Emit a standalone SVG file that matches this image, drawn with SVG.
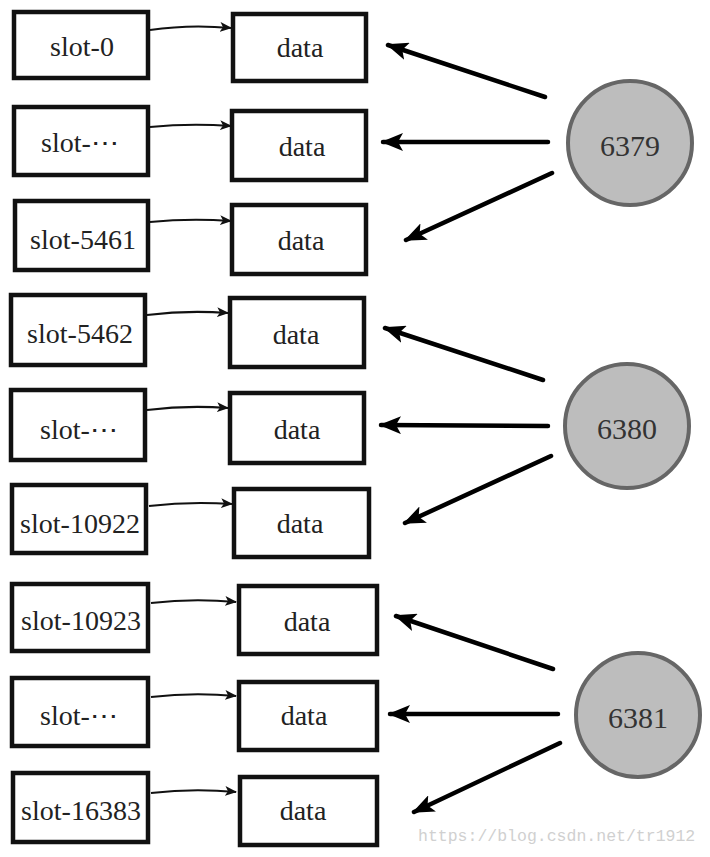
<svg xmlns="http://www.w3.org/2000/svg" width="710" height="857" viewBox="0 0 710 857">
<defs>
<style>
.box{fill:#fff;stroke:#111;stroke-width:4.5;stroke-linejoin:miter}
.lbl{font-family:"Liberation Serif",serif;font-size:28px;fill:#222;text-anchor:middle;dominant-baseline:central}
.num{font-family:"Liberation Serif",serif;font-size:30px;fill:#333;text-anchor:middle;dominant-baseline:central}
.srv{fill:#bdbdbd;stroke:#666;stroke-width:4}
.sm{fill:none;stroke:#111;stroke-width:2;marker-end:url(#sa)}
.big{fill:none;stroke:#000;stroke-width:4.5;stroke-linecap:round;marker-end:url(#ba)}
</style>
<marker id="sa" markerUnits="userSpaceOnUse" viewBox="0 0 12 10" markerWidth="12" markerHeight="10" refX="11" refY="5" orient="auto">
<path d="M0,0 L12,5 L0,10 L3,5 Z" fill="#111"/>
</marker>
<marker id="ba" markerUnits="userSpaceOnUse" viewBox="0 0 22 18" markerWidth="22" markerHeight="18" refX="20" refY="9" orient="auto">
<path d="M22,9 L0,0 L5,9 L0,18 Z" fill="#000"/>
</marker>
</defs>
<rect width="710" height="857" fill="#fff"/>

<g id="slot-0"><rect class="box" x="14" y="12" width="134" height="66"/><text class="lbl" x="82" y="46">slot-0</text></g>
<g id="data-0"><rect class="box" x="233" y="14" width="133" height="67"/><text class="lbl" x="300" y="47">data</text></g>
<g id="slot-a"><rect class="box" x="14" y="107" width="134" height="68"/><text class="lbl" x="80" y="142">slot-⋯</text></g>
<g id="data-a"><rect class="box" x="232" y="111" width="134" height="69"/><text class="lbl" x="302" y="146">data</text></g>
<g id="slot-5461"><rect class="box" x="15" y="201" width="133" height="69"/><text class="lbl" x="83" y="239">slot-5461</text></g>
<g id="data-5461"><rect class="box" x="232" y="205" width="134" height="69"/><text class="lbl" x="301" y="240">data</text></g>

<g id="slot-5462"><rect class="box" x="11" y="295" width="134" height="70"/><text class="lbl" x="80" y="333">slot-5462</text></g>
<g id="data-5462"><rect class="box" x="230" y="298" width="134" height="69"/><text class="lbl" x="296" y="334">data</text></g>
<g id="slot-b"><rect class="box" x="11" y="390" width="134" height="70"/><text class="lbl" x="79" y="429">slot-⋯</text></g>
<g id="data-b"><rect class="box" x="230" y="393" width="134" height="70"/><text class="lbl" x="297" y="429">data</text></g>
<g id="slot-10922"><rect class="box" x="12" y="485" width="134" height="68"/><text class="lbl" x="80" y="523">slot-10922</text></g>
<g id="data-10922"><rect class="box" x="234" y="489" width="135" height="68"/><text class="lbl" x="300" y="523">data</text></g>

<g id="slot-10923"><rect class="box" x="12" y="584" width="136" height="67"/><text class="lbl" x="81" y="620">slot-10923</text></g>
<g id="data-10923"><rect class="box" x="239" y="586" width="138" height="68"/><text class="lbl" x="307" y="621">data</text></g>
<g id="slot-c"><rect class="box" x="12" y="678" width="136" height="68"/><text class="lbl" x="79" y="715">slot-⋯</text></g>
<g id="data-c"><rect class="box" x="239" y="682" width="138" height="68"/><text class="lbl" x="304" y="715">data</text></g>
<g id="slot-16383"><rect class="box" x="13" y="773" width="135" height="69"/><text class="lbl" x="81" y="810">slot-16383</text></g>
<g id="data-16383"><rect class="box" x="240" y="777" width="137" height="68"/><text class="lbl" x="303" y="810">data</text></g>

<g id="node-6379"><circle class="srv" cx="630" cy="143" r="62"/><text class="num" x="630" y="145">6379</text></g>
<g id="node-6380"><circle class="srv" cx="627" cy="426" r="62"/><text class="num" x="627" y="428">6380</text></g>
<g id="node-6381"><circle class="srv" cx="638" cy="715" r="62"/><text class="num" x="638" y="717">6381</text></g>

<g id="connectors">
<path class="sm" d="M150,30 Q190,24 231,28"/>
<path class="sm" d="M150,127 Q190,123 231,126"/>
<path class="sm" d="M150,222 Q190,218 231,221"/>
<path class="sm" d="M147,315 Q187,310 228,313"/>
<path class="sm" d="M147,410 Q187,405 228,408"/>
<path class="sm" d="M149,506 Q190,501 232,504"/>
<path class="sm" d="M151,603 Q193,598 236,602"/>
<path class="sm" d="M151,697 Q193,692 236,696"/>
<path class="sm" d="M151,793 Q193,788 236,792"/>

<line class="big" x1="545" y1="97" x2="388" y2="45"/>
<line class="big" x1="548" y1="142" x2="383" y2="142"/>
<line class="big" x1="552" y1="173" x2="406" y2="240"/>
<line class="big" x1="543" y1="380" x2="385" y2="328"/>
<line class="big" x1="548" y1="426" x2="381" y2="425"/>
<line class="big" x1="551" y1="456" x2="405" y2="523"/>
<line class="big" x1="553" y1="669" x2="396" y2="616"/>
<line class="big" x1="558" y1="714" x2="390" y2="714"/>
<line class="big" x1="560" y1="743" x2="414" y2="812"/>
</g>

<text x="418" y="841" font-family="Liberation Mono, monospace" font-size="16.5" fill="#d0d0d0">https://blog.csdn.net/tr1912</text>
</svg>
